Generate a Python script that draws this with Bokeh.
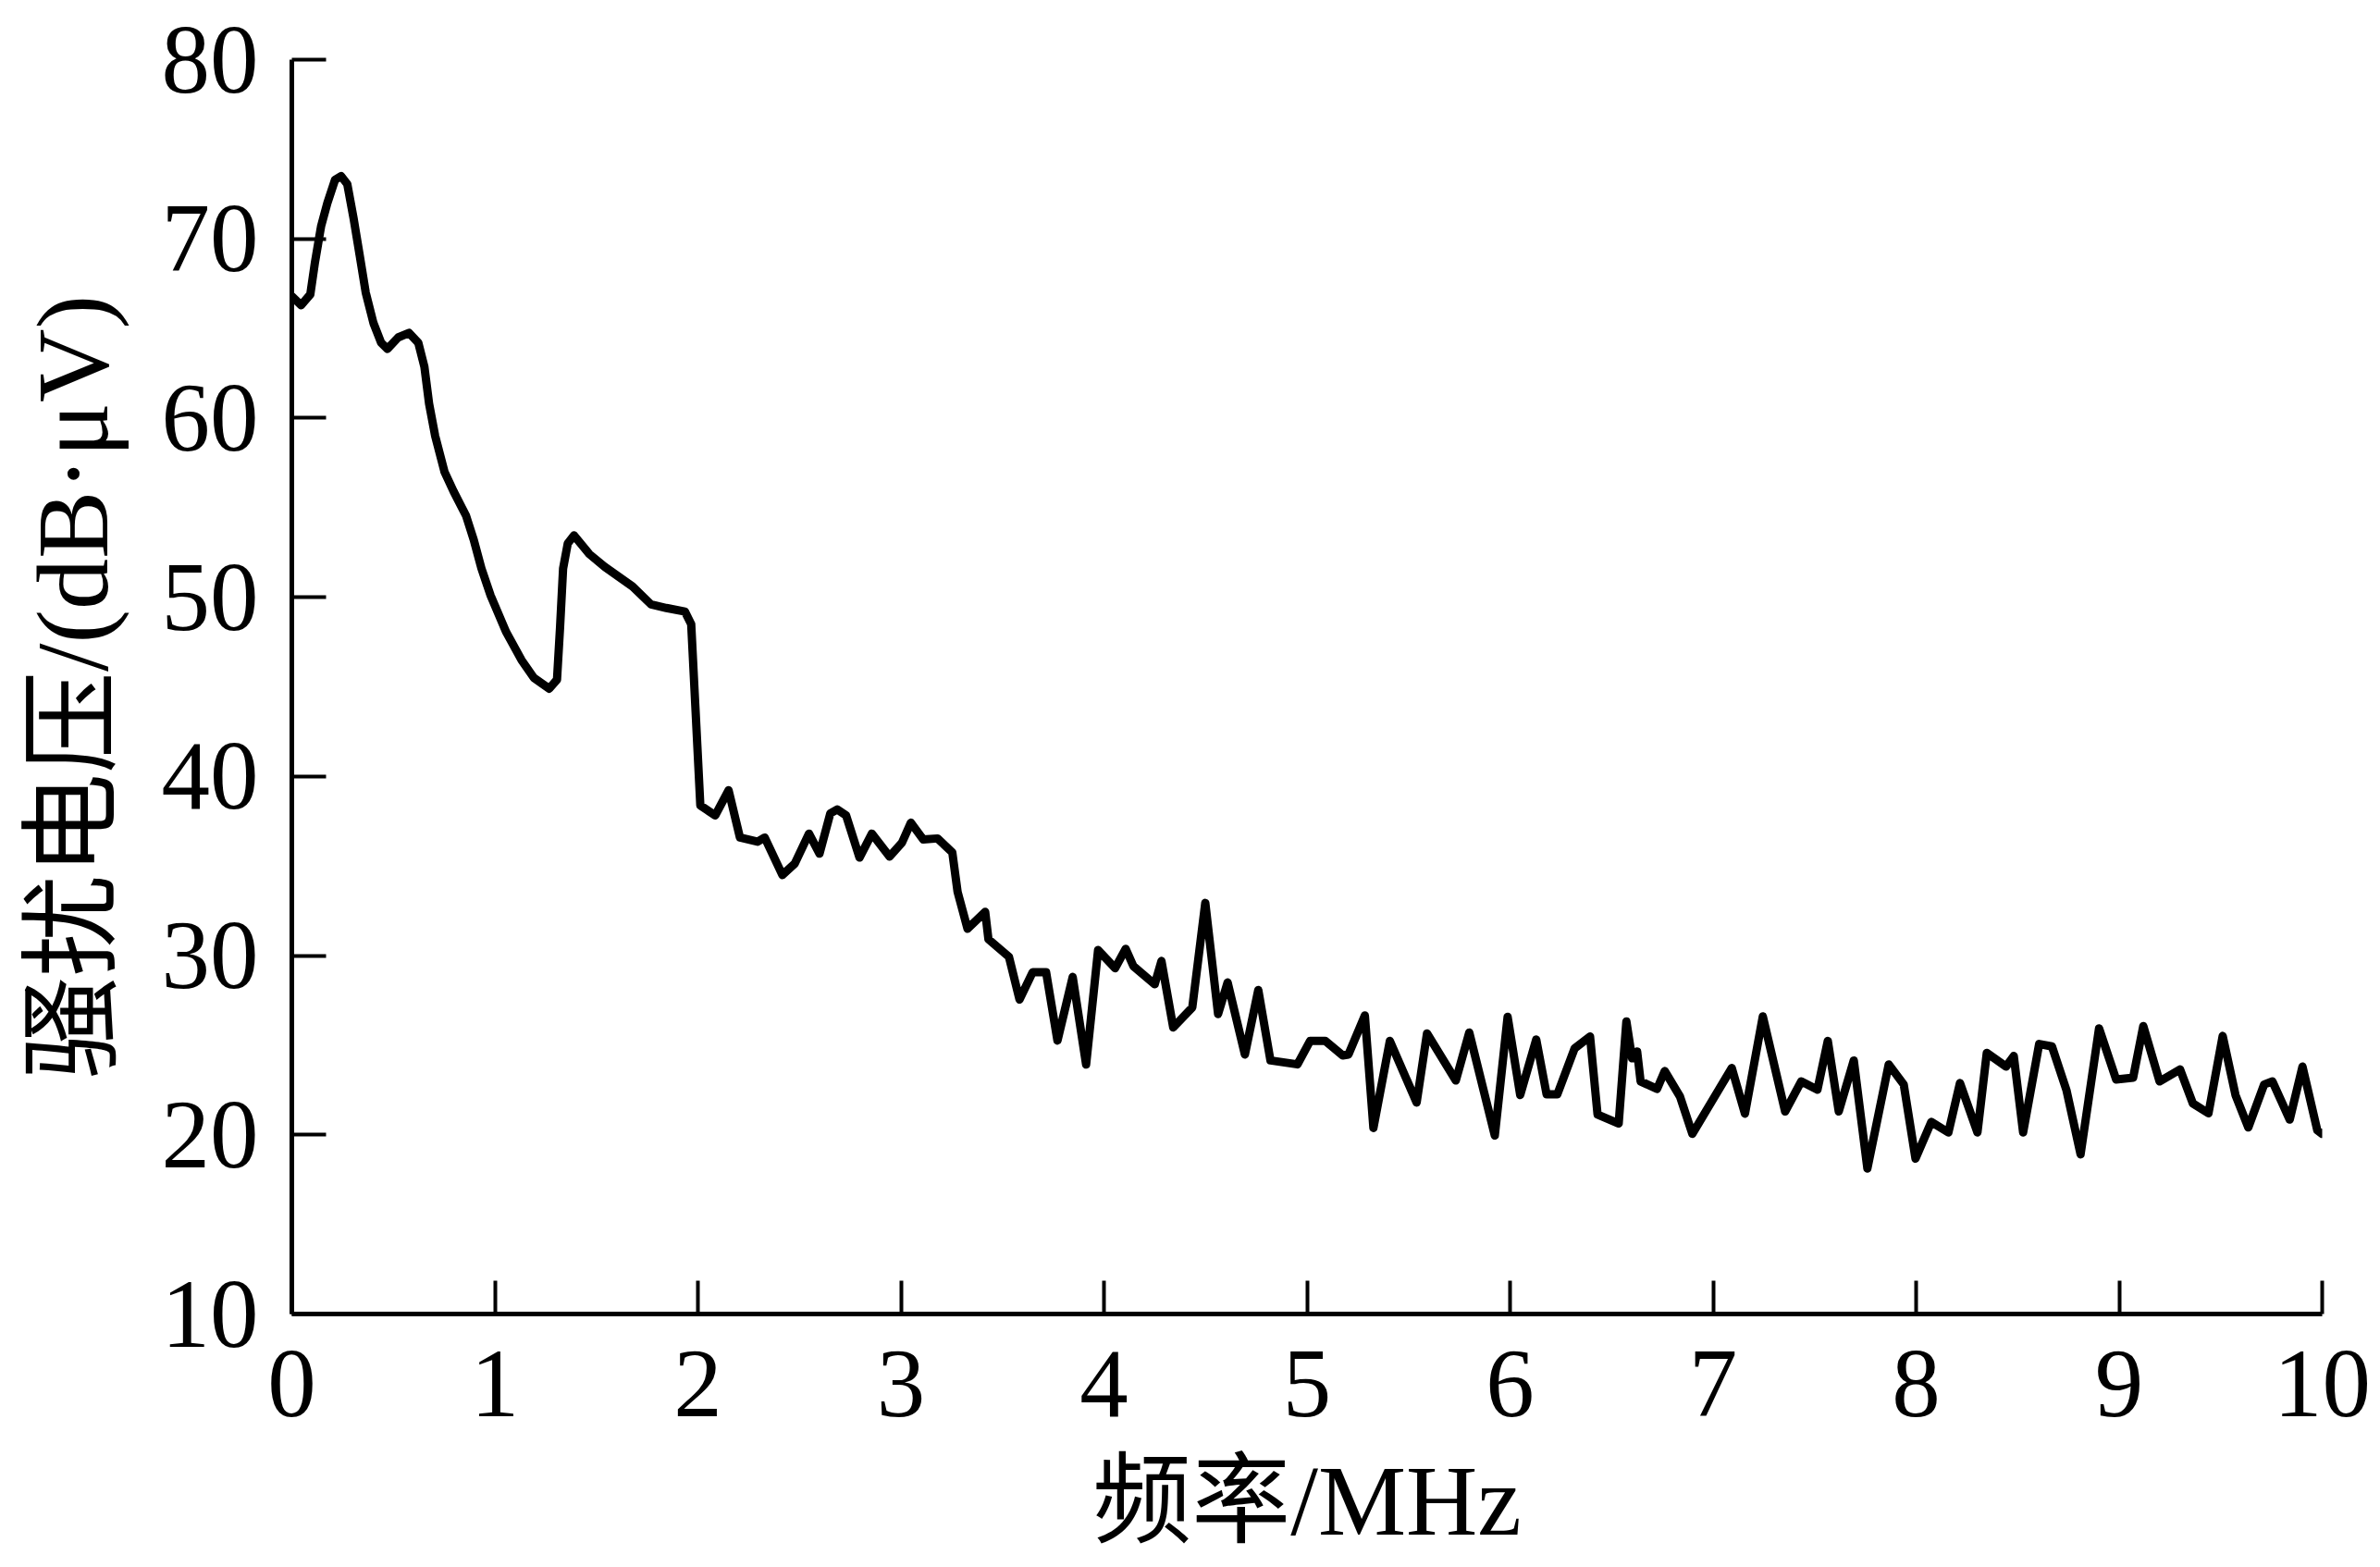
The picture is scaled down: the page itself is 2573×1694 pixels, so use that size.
from bokeh.plotting import figure
from bokeh.models import Range1d, FixedTicker, ColumnDataSource
from bokeh.embed import file_html
from bokeh.resources import INLINE

# ---- data ----
freq_mhz = [
    0.0, 0.046, 0.091, 0.114, 0.144, 0.175, 0.213, 0.243, 0.273, 0.304,
    0.334, 0.364, 0.402, 0.44, 0.471, 0.524, 0.577, 0.623, 0.653, 0.676,
    0.706, 0.752, 0.797, 0.858, 0.896, 0.934, 0.979, 1.056, 1.131, 1.192,
    1.268, 1.306, 1.321, 1.336, 1.359, 1.39, 1.466, 1.541, 1.678, 1.769,
    1.845, 1.936, 1.967,
    2.012, 2.085, 2.151, 2.207, 2.294, 2.329, 2.416, 2.477, 2.547, 2.599,
    2.652, 2.686, 2.73, 2.796, 2.857, 2.944, 3.005, 3.049, 3.11, 3.18,
    3.253, 3.279, 3.328, 3.415, 3.431, 3.532, 3.584, 3.649, 3.715, 3.771,
    3.846, 3.912, 3.971, 4.055, 4.107, 4.145, 4.25, 4.283,
    4.341, 4.435, 4.499, 4.562, 4.609, 4.694, 4.76, 4.82, 4.953, 5.015,
    5.09, 5.176, 5.204, 5.285, 5.327, 5.408, 5.54, 5.591, 5.733, 5.799,
    5.925, 5.988, 6.05, 6.129, 6.18, 6.233, 6.318, 6.394, 6.431, 6.535,
    6.573, 6.601, 6.626, 6.643, 6.724, 6.762, 6.837, 6.898, 7.092,
    7.157, 7.245, 7.355, 7.434, 7.514, 7.565, 7.619, 7.693, 7.76, 7.865,
    7.939, 7.997, 8.075, 8.159, 8.216, 8.302, 8.348, 8.443, 8.481, 8.527,
    8.606, 8.669, 8.741, 8.81, 8.901, 8.985, 9.069, 9.119, 9.199, 9.3,
    9.363, 9.44, 9.51, 9.573, 9.636, 9.714, 9.755, 9.84, 9.903, 9.976,
    10.0,
]
voltage_dbuv = [
    66.8, 66.3, 66.9, 68.7, 70.7, 72.0, 73.3, 73.5, 73.06, 71.15,
    69.1, 67.0, 65.3, 64.2, 63.86, 64.5, 64.75, 64.2, 62.85, 60.8,
    59.0, 57.0, 55.9, 54.55, 53.2, 51.6, 50.1, 48.05, 46.5, 45.5,
    44.9, 45.4, 48.3, 51.6, 53.0, 53.45, 52.4, 51.7, 50.6, 49.6,
    49.4, 49.2, 48.5,
    38.38, 37.82, 39.23, 36.59, 36.36, 36.59, 34.5, 35.13, 36.81, 35.69,
    37.93, 38.16, 37.82, 35.47, 36.81, 35.53, 36.3, 37.42, 36.48, 36.54,
    35.76, 33.56, 31.5, 32.44, 30.91, 29.93, 27.55, 29.08, 29.08, 25.26,
    28.81, 23.92, 30.31, 29.3, 30.38, 29.41, 28.4, 29.7,
    25.99, 27.11, 32.94, 26.74, 28.5, 24.48, 28.08, 24.15, 23.93, 25.24,
    25.24, 24.43, 24.48, 26.66, 20.38, 25.24, 21.8, 25.66, 23.03, 25.71,
    19.96, 26.58, 22.22, 25.32, 22.26, 22.26, 24.82, 25.49, 21.13, 20.63,
    26.33, 24.27, 24.65, 22.98, 22.56, 23.56, 22.14, 20.05, 23.73,
    21.18, 26.61, 21.3, 22.98, 22.52, 25.24, 21.3, 24.15, 18.12, 23.93,
    22.81, 18.67, 20.72, 20.13, 22.89, 20.13, 24.57, 23.81, 24.4, 20.13,
    25.07, 24.93, 22.47, 18.91, 25.94, 23.09, 23.19, 26.07, 22.98, 23.65,
    21.75, 21.2, 25.52, 22.22, 20.41, 22.81, 22.98, 20.85, 23.81, 20.25,
    20.05,
]
x_ticks = [0, 1, 2, 3, 4, 5, 6, 7, 8, 9, 10]
y_ticks = [10, 20, 30, 40, 50, 60, 70, 80]
x_label = "频率/MHz"
y_label = "骚扰电压/(dB·μV)"

TICK_FONT = "Liberation Serif"
LABEL_FONT = "Liberation Serif, Noto Sans CJK SC"

source = ColumnDataSource(data=dict(f=freq_mhz, v=voltage_dbuv))

p = figure(
    width=2570, height=1692,
    output_backend="svg", toolbar_location=None,
    x_range=Range1d(0, 10), y_range=Range1d(10, 80),
    min_border_left=315, min_border_right=60,
    min_border_top=64, min_border_bottom=272,
)
p.background_fill_color = "white"
p.border_fill_color = "white"
p.outline_line_color = None
p.grid.visible = False

p.line("f", "v", source=source, line_color="black", line_width=9,
       line_join="round", line_cap="round")

for ax in (p.xaxis[0], p.yaxis[0]):
    ax.axis_line_color = "black"
    ax.axis_line_width = 5
    ax.major_tick_line_color = "black"
    ax.major_tick_line_width = 4
    ax.major_tick_out = 0
    ax.minor_tick_line_color = None
    ax.major_label_text_font = TICK_FONT
    ax.major_label_text_font_size = "105px"
    ax.major_label_text_color = "black"
    ax.axis_label_text_font = LABEL_FONT
    ax.axis_label_text_font_style = "normal"
    ax.axis_label_text_color = "black"

p.xaxis.axis_label_text_font_size = "107px"
p.yaxis.axis_label_text_font_size = "110px"
p.xaxis.ticker = FixedTicker(ticks=x_ticks)
p.yaxis.ticker = FixedTicker(ticks=y_ticks)
p.xaxis.major_tick_in = 36
p.yaxis.major_tick_in = 37
p.xaxis.major_label_standoff = 40
p.yaxis.major_label_standoff = 36
p.xaxis.axis_label = x_label
p.yaxis.axis_label = y_label
p.xaxis.axis_label_standoff = 30
p.yaxis.axis_label_standoff = 32

open("out.html", "w").write(file_html(p, INLINE))
